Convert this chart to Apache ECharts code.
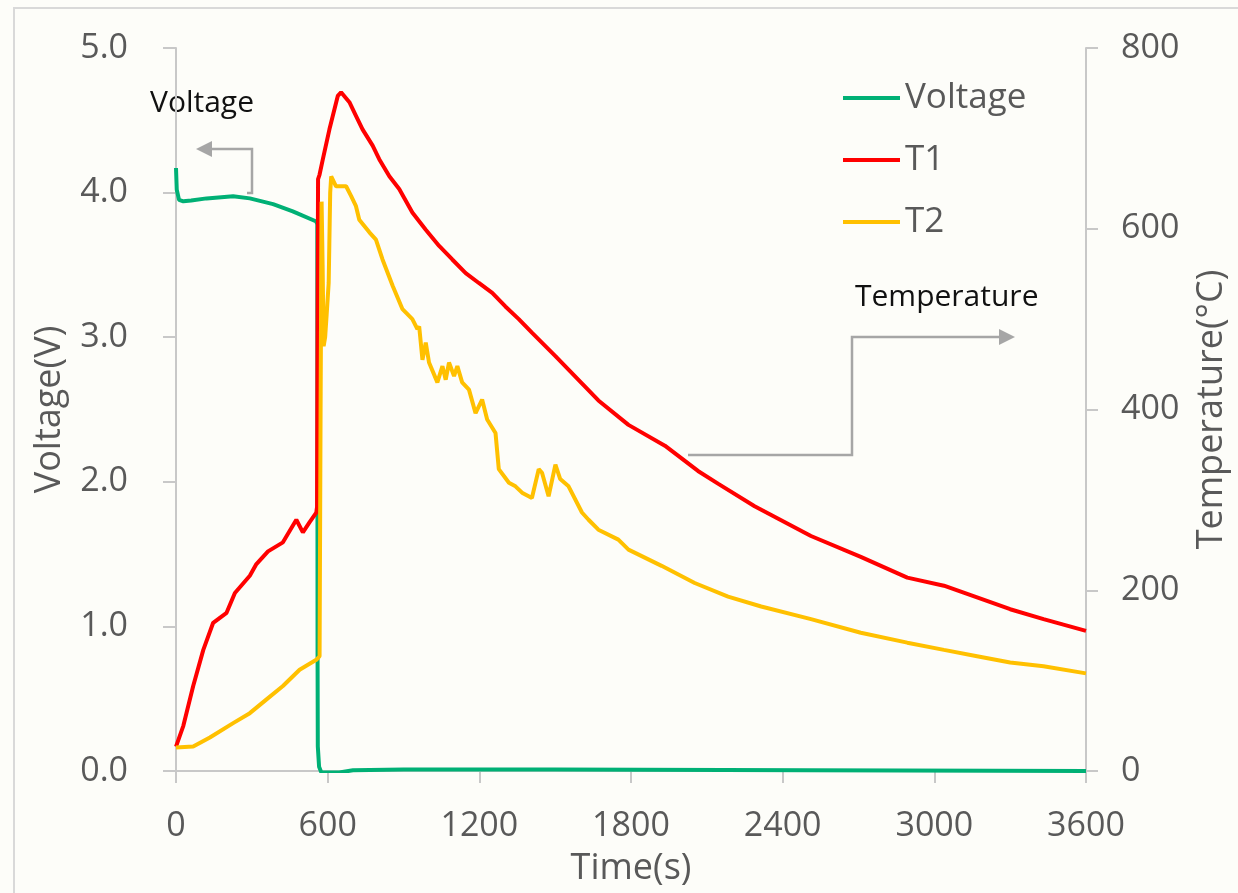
<!DOCTYPE html>
<html>
<head>
<meta charset="utf-8">
<title>Voltage / Temperature</title>
<script src="https://cdn.jsdelivr.net/npm/echarts@6/dist/echarts.min.js"></script>
<style>
  html, body { margin: 0; padding: 0; background: #fdfdf9; }
  #main { width: 1238px; height: 893px; }
</style>
</head>
<body>
<div id="main"></div>
<script type="text/javascript">
    // data (time in s)
    var voltTime = [0, 3, 12, 29, 60, 121, 226, 292, 384, 462, 555, 559, 560, 561, 566, 575, 646, 700, 900, 1500, 2500, 3600];
    var voltValues = [4.17, 4.02, 3.95, 3.94, 3.945, 3.96, 3.975, 3.96, 3.92, 3.87, 3.80, 3.78, 0.80, 0.17, 0.03, -0.01, -0.01, 0.005, 0.01, 0.01, 0.005, 0.0];

    var t1Time = [0, 29, 68, 108, 147, 200, 233, 292, 318, 364, 423, 476, 502, 528, 555, 558, 560, 562, 568, 581, 607, 640, 653, 686, 712, 738, 778, 804, 844, 883, 935, 988, 1041, 1093, 1146, 1198, 1251, 1303, 1356, 1408, 1501, 1671, 1790, 1934, 2065, 2144, 2289, 2512, 2709, 2893, 3038, 3300, 3432, 3600];
    var t1Values = [27, 50, 94, 134, 164, 175, 197, 216, 229, 243, 253, 278, 264, 275, 286, 292, 500, 655, 660, 677, 710, 747, 751, 740, 725, 710, 692, 677, 658, 644, 618, 599, 581, 566, 551, 540, 529, 514, 500, 485, 459, 410, 383, 360, 332, 318, 293, 260, 237, 214, 205, 179, 168, 155];

    var t2Time = [0, 68, 134, 226, 292, 357, 423, 489, 555, 568, 572, 576, 580, 584, 590, 596, 604, 610, 614, 633, 673, 693, 712, 725, 765, 791, 817, 857, 896, 935, 955, 962, 975, 988, 1001, 1034, 1054, 1067, 1080, 1100, 1113, 1132, 1159, 1185, 1211, 1231, 1264, 1277, 1317, 1343, 1369, 1408, 1435, 1448, 1474, 1501, 1520, 1553, 1606, 1632, 1671, 1750, 1790, 1921, 2052, 2184, 2315, 2512, 2709, 2893, 3038, 3169, 3300, 3432, 3600];
    var t2Values = [26, 27, 37, 53, 64, 79, 94, 112, 123, 127, 400, 630, 560, 470, 480, 505, 540, 640, 658, 647, 647, 636, 625, 610, 596, 588, 566, 537, 511, 500, 489, 492, 455, 474, 452, 430, 448, 433, 452, 437, 448, 430, 422, 396, 411, 389, 374, 334, 319, 315, 308, 302, 334, 330, 304, 339, 323, 315, 286, 278, 267, 256, 245, 227, 208, 193, 182, 168, 153, 142, 134, 127, 120, 116, 108];

    function pairs(xs, ys) {
      return xs.map(function (x, i) { return [x, ys[i]]; });
    }

    var tickColor = '#595959';
    var lineGrey = '#c8c8c8';
    var arrowGrey = '#a6a6a6';
    var font = '"Open Sans", "Noto Sans", sans-serif';

    var chart = echarts.init(document.getElementById('main'));

    var option = {
      backgroundColor: '#fdfdf9',
      animation: false,
      textStyle: { fontFamily: font },
      grid: { left: 176, right: 148, top: 48, bottom: 122 },
      legend: {
        orient: 'vertical',
        left: 843,
        top: 78,
        padding: 0,
        icon: 'rect',
        itemWidth: 57,
        itemHeight: 4,
        itemGap: 22,
        textStyle: { fontSize: 35, color: tickColor, lineHeight: 40, fontFamily: font },
        data: ['Voltage', 'T1', 'T2']
      },
      xAxis: {
        type: 'value',
        min: 0, max: 3600, interval: 600,
        name: 'Time(s)',
        nameLocation: 'middle',
        nameGap: 80,
        nameTextStyle: { fontSize: 36, color: tickColor },
        axisLine: { lineStyle: { color: lineGrey, width: 2 } },
        axisTick: { show: true, length: 12, lineStyle: { color: lineGrey, width: 2 } },
        axisLabel: { fontSize: 34, color: tickColor, margin: 38, formatter: function (v) { return String(v); } },
        splitLine: { show: false }
      },
      yAxis: [{
        type: 'value',
        min: 0, max: 5, interval: 1,
        name: 'Voltage(V)',
        nameLocation: 'middle',
        nameRotate: 90,
        nameGap: 108,
        nameTextStyle: { fontSize: 36, color: tickColor },
        axisLine: { show: true, lineStyle: { color: lineGrey, width: 2 } },
        axisTick: { show: true, length: 13, lineStyle: { color: lineGrey, width: 2 } },
        axisLabel: { fontSize: 34, color: tickColor, margin: 48, formatter: function (v) { return v.toFixed(1); } },
        splitLine: { show: false }
      }, {
        type: 'value',
        position: 'right',
        min: 0, max: 800, interval: 200,
        name: 'Temperature(°C)',
        nameLocation: 'middle',
        nameRotate: 90,
        nameGap: 108,
        nameTextStyle: { fontSize: 36, color: tickColor },
        axisLine: { show: true, lineStyle: { color: lineGrey, width: 2 } },
        axisTick: { show: true, length: 12, lineStyle: { color: lineGrey, width: 2 } },
        axisLabel: { fontSize: 34, color: tickColor, margin: 35 },
        splitLine: { show: false }
      }],
      series: [{
        name: 'Voltage',
        type: 'line',
        yAxisIndex: 0,
        showSymbol: false,
        symbol: 'none',
        color: '#00B075',
        lineStyle: { width: 4 },
        data: pairs(voltTime, voltValues)
      }, {
        name: 'T1',
        type: 'line',
        yAxisIndex: 1,
        showSymbol: false,
        symbol: 'none',
        color: '#FF0000',
        lineStyle: { width: 4 },
        data: pairs(t1Time, t1Values)
      }, {
        name: 'T2',
        type: 'line',
        yAxisIndex: 1,
        showSymbol: false,
        symbol: 'none',
        color: '#FFC000',
        lineStyle: { width: 4 },
        data: pairs(t2Time, t2Values)
      }],
      graphic: [
        // outer frame
        { type: 'rect', z: -1, shape: { x: 14, y: 8, width: 1300, height: 1000 },
          style: { fill: null, stroke: '#d9d9d9', lineWidth: 2 } },
        // "Voltage" callout
        { type: 'text', x: 150, y: 103,
          style: { text: 'Voltage', fontSize: 30, fontFamily: font, fill: '#111111', textVerticalAlign: 'middle' } },
        { type: 'polyline', shape: { points: [[247, 193], [252, 193], [252, 149], [211, 149]] },
          style: { stroke: arrowGrey, lineWidth: 2.5, fill: null } },
        { type: 'polygon', shape: { points: [[196, 149], [212, 141], [212, 157]] },
          style: { fill: arrowGrey } },
        // "Temperature" callout
        { type: 'text', x: 855, y: 297,
          style: { text: 'Temperature', fontSize: 30, fontFamily: font, fill: '#111111', textVerticalAlign: 'middle' } },
        { type: 'polyline', shape: { points: [[688, 455], [852, 455], [852, 337], [1000, 337]] },
          style: { stroke: arrowGrey, lineWidth: 2.5, fill: null } },
        { type: 'polygon', shape: { points: [[1015, 337], [999, 329], [999, 345]] },
          style: { fill: arrowGrey } }
      ]
    };

    chart.setOption(option);
</script>
</body>
</html>
